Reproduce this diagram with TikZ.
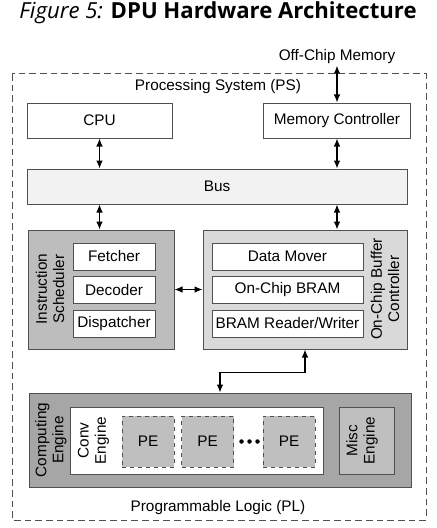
\documentclass[tikz,border=0pt]{standalone}
\usepackage{fontspec}
\setmainfont{Liberation Sans}
\newfontfamily\titlefont{Open Sans}
\usetikzlibrary{arrows.meta}
\definecolor{bord}{HTML}{505050}
\definecolor{isfill}{HTML}{BDBDBD}
\definecolor{ocfill}{HTML}{D9D9D9}
\definecolor{busfill}{HTML}{F2F2F2}
\definecolor{cefill}{HTML}{A6A6A6}
\definecolor{pefill}{HTML}{BFBFBF}
\begin{document}
\begin{tikzpicture}[x=0.75pt,y=-0.75pt,
  every node/.style={font=\fontsize{11.5}{12.8}\selectfont, inner sep=1pt},
  box/.style={draw=bord, line width=0.75pt, fill=white, anchor=center},
  rlab/.style={rotate=90, align=center},
  dot/.style={circle, fill=black, inner sep=0pt, minimum size=4.5*0.75pt},
  link/.style={line width=0.9pt, {Latex[length=6pt,width=5pt]}-{Latex[length=6pt,width=5pt]}}]
\useasboundingbox (0,0) rectangle (436,528);
% title
\node (title) at (218,13) {\titlefont\fontsize{16.6}{18}\selectfont\textit{Figure 5:} \textbf{DPU Hardware Architecture}};
% outer dashed
\draw[bord, line width=0.75pt, dash pattern=on 5pt off 3pt] (12,74) rectangle (426,520);
\node (ps) at (218,87) {Processing System (PS)};
\node (pl) at (218,508) {Programmable Logic (PL)};
\node (offchip) at (337,57) {Off-Chip Memory};
% PS boxes
\node[box, minimum width=145*0.75pt, minimum height=35*0.75pt] (cpu) at (99.5,120.5) {CPU};
\node[box, minimum width=147*0.75pt, minimum height=35*0.75pt] (mc) at (337,120.5) {Memory Controller};
\node[box, fill=busfill, minimum width=380*0.75pt, minimum height=35*0.75pt] (bus) at (217,186.5) {Bus};
% Instruction scheduler
\node[box, fill=isfill, minimum width=146*0.75pt, minimum height=119*0.75pt] (is) at (101,289.5) {};
\node[rlab] (islab) at (50,289) {Instruction\\Scheduler};
\node[box, minimum width=82*0.75pt, minimum height=27*0.75pt] (fetch) at (114,256.5) {Fetcher};
\node[box, minimum width=82*0.75pt, minimum height=27*0.75pt] (dec) at (114,290) {Decoder};
\node[box, minimum width=82*0.75pt, minimum height=27*0.75pt] (disp) at (114,323.5) {Dispatcher};
% On-chip buffer controller
\node[box, fill=ocfill, minimum width=204*0.75pt, minimum height=119*0.75pt] (ocbc) at (305,289.5) {};
\node[rlab] (oclab) at (385,289) {On-Chip Buffer\\Controller};
\node[box, minimum width=151*0.75pt, minimum height=27*0.75pt] (dm) at (287.5,256.5) {Data Mover};
\node[box, minimum width=151*0.75pt, minimum height=27*0.75pt] (bram) at (287.5,290) {On-Chip BRAM};
\node[box, minimum width=151*0.75pt, minimum height=27*0.75pt] (brw) at (287.5,323.5) {BRAM Reader/Writer};
% Computing engine
\node[box, fill=cefill, minimum width=382*0.75pt, minimum height=94*0.75pt] (ce) at (220,440) {};
\node[rlab] (celab) at (51,440) {Computing\\Engine};
\node[box, minimum width=253*0.75pt, minimum height=67*0.75pt] (conv) at (196.5,440.5) {};
\node[rlab] (convlab) at (93.5,440.5) {Conv\\Engine};
\node[box, fill=pefill, dashed, minimum width=52*0.75pt, minimum height=51*0.75pt] (pe1) at (148,441.5) {PE};
\node[box, fill=pefill, dashed, minimum width=52*0.75pt, minimum height=51*0.75pt] (pe2) at (207.5,441.5) {PE};
\node[box, fill=pefill, dashed, minimum width=52*0.75pt, minimum height=51*0.75pt] (pe3) at (289,441.5) {PE};
\node[dot] (d1) at (241.5,441.5) {};
\node[dot] (d2) at (249.5,441.5) {};
\node[dot] (d3) at (257.5,441.5) {};
\node[box, fill=pefill, minimum width=55*0.75pt, minimum height=67*0.75pt] (misc) at (366.5,440.5) {};
\node[rlab] (misclab) at (362,440.5) {Misc\\Engine};
% connectors
\draw[link] (offchip.south) -- (mc.north);
\draw[link] (cpu.south) -- (cpu.south |- bus.north);
\draw[link] (mc.south) -- (mc.south |- bus.north);
\draw[link] (cpu.south |- bus.south) -- (cpu.south |- is.north);
\draw[link] (mc.south |- bus.south) -- (mc.south |- ocbc.north);
\draw[link] (is.east) -- (ocbc.west);
\draw[link] (ocbc.south) -- ++(0,23) -| (ce.north);
\end{tikzpicture}
\end{document}
